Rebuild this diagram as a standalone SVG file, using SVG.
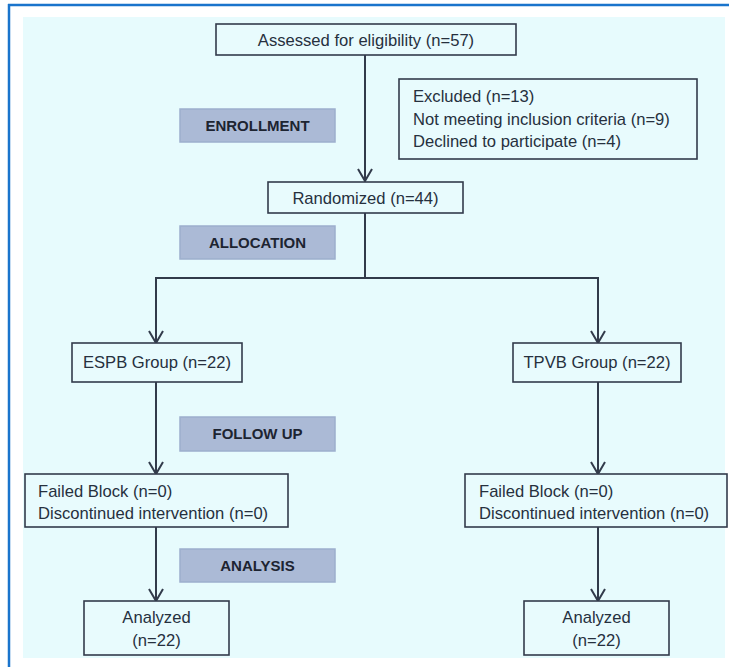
<svg xmlns="http://www.w3.org/2000/svg" width="729" height="667" viewBox="0 0 729 667">
<defs>
<style>
.box{fill:#e8fbfd;stroke:#323b4b;stroke-width:1.6}
.lab{fill:#abbad6;stroke:#9dafcd;stroke-width:1.5}
.t{font-family:"Liberation Sans",Arial,sans-serif;font-size:16.6px;fill:#26303e}
.c{text-anchor:middle}
.b{font-family:"Liberation Sans",Arial,sans-serif;font-size:15px;font-weight:bold;fill:#1d2431;text-anchor:middle}
.ln{fill:none;stroke:#323b4b;stroke-width:2}
</style>
<marker id="ah" viewBox="0 0 14 16" refX="13" refY="8" markerWidth="14" markerHeight="16" markerUnits="userSpaceOnUse" orient="auto">
<path d="M1,1 L13,8 L1,15" fill="none" stroke="#323b4b" stroke-width="2"/>
</marker>
</defs>
<rect x="0" y="0" width="729" height="667" fill="#ffffff"/>
<rect x="23" y="17" width="702" height="641" fill="#e7fbfd"/>
<line x1="8" y1="5" x2="729" y2="5" stroke="#1a74cc" stroke-width="2.5"/>
<line x1="9" y1="4" x2="9" y2="667" stroke="#1a74cc" stroke-width="2.5"/>

<g id="connectors">
<path class="ln" d="M365,55 V181" marker-end="url(#ah)"/>
<path class="ln" d="M365,213 V278"/>
<path class="ln" d="M156,278 H598"/>
<path class="ln" d="M156,277 V343" marker-end="url(#ah)"/>
<path class="ln" d="M598,277 V343" marker-end="url(#ah)"/>
<path class="ln" d="M156,382 V474" marker-end="url(#ah)"/>
<path class="ln" d="M598,382 V474" marker-end="url(#ah)"/>
<path class="ln" d="M156,527 V601" marker-end="url(#ah)"/>
<path class="ln" d="M598,527 V601" marker-end="url(#ah)"/>
</g>

<g id="assessed">
<rect class="box" x="216" y="24" width="300" height="31"/>
<text class="t c" x="366" y="45.5">Assessed for eligibility (n=57)</text>
</g>
<g id="excluded">
<rect class="box" x="399" y="79" width="298" height="80"/>
<text class="t" x="413" y="102">Excluded (n=13)</text>
<text class="t" x="413" y="125">Not meeting inclusion criteria (n=9)</text>
<text class="t" x="413" y="147">Declined to participate (n=4)</text>
</g>
<g id="enrollment">
<rect class="lab" x="180" y="109" width="155" height="33"/>
<text class="b" x="257.5" y="131">ENROLLMENT</text>
</g>
<g id="randomized">
<rect class="box" x="268" y="182" width="195" height="31"/>
<text class="t c" x="365.5" y="203.5">Randomized (n=44)</text>
</g>
<g id="allocation">
<rect class="lab" x="180" y="226" width="155" height="33"/>
<text class="b" x="257.5" y="248">ALLOCATION</text>
</g>
<g id="espb">
<rect class="box" x="72" y="343" width="170" height="39"/>
<text class="t c" x="157" y="368">ESPB Group (n=22)</text>
</g>
<g id="tpvb">
<rect class="box" x="513" y="343" width="168" height="39"/>
<text class="t c" x="597" y="368">TPVB Group (n=22)</text>
</g>
<g id="followup">
<rect class="lab" x="180" y="417" width="155" height="34"/>
<text class="b" x="257.5" y="439">FOLLOW UP</text>
</g>
<g id="failed-left">
<rect class="box" x="25" y="474" width="263" height="53"/>
<text class="t" x="38" y="497">Failed Block (n=0)</text>
<text class="t" x="38" y="519">Discontinued intervention (n=0)</text>
</g>
<g id="failed-right">
<rect class="box" x="465" y="474" width="262" height="53"/>
<text class="t" x="479" y="497">Failed Block (n=0)</text>
<text class="t" x="479" y="519">Discontinued intervention (n=0)</text>
</g>
<g id="analysis">
<rect class="lab" x="180" y="549" width="155" height="33"/>
<text class="b" x="257.5" y="571">ANALYSIS</text>
</g>
<g id="analyzed-left">
<rect class="box" x="84" y="601" width="145" height="54"/>
<text class="t c" x="156.5" y="623">Analyzed</text>
<text class="t c" x="156.5" y="646">(n=22)</text>
</g>
<g id="analyzed-right">
<rect class="box" x="524" y="601" width="145" height="54"/>
<text class="t c" x="596.5" y="623">Analyzed</text>
<text class="t c" x="596.5" y="646">(n=22)</text>
</g>
</svg>
